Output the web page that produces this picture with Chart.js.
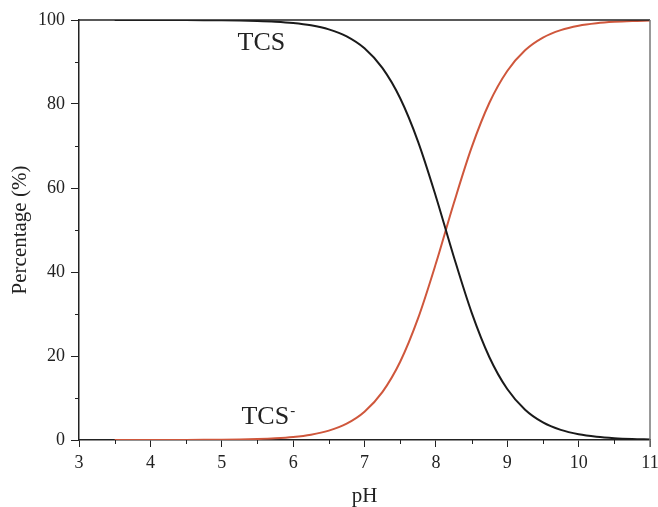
<!DOCTYPE html>
<html>
<head>
<meta charset="utf-8">
<script src="https://cdn.jsdelivr.net/npm/chart.js@4"></script>
<style>
  html, body { margin: 0; padding: 0; background: #fff; }
  #wrap { width: 658px; height: 507px; }
</style>
</head>
<body>
<div id="wrap"><canvas id="speciesChart"></canvas></div>
<script>
// pH values
const phValues = [3.5, 3.75, 4, 4.25, 4.5, 4.75, 5, 5.25, 5.5, 5.75, 6, 6.25, 6.5, 6.75, 7,
  7.25, 7.5, 7.75, 8, 8.25, 8.5, 8.75, 9, 9.25, 9.5, 9.75, 10, 10.25, 10.5, 10.75, 11];

// neutral form (black curve), %
const tcsNeutral = [100, 100, 99.99, 99.99, 99.98, 99.96, 99.93, 99.87, 99.77, 99.59, 99.28,
  98.73, 97.76, 96.09, 93.25, 88.59, 81.36, 71.05, 57.99, 43.70, 30.39, 19.71, 12.13,
  7.20, 4.18, 2.40, 1.36, 0.77, 0.43, 0.24, 0.14];

// anion form (red curve), %
const tcsAnion = [0, 0, 0.01, 0.01, 0.02, 0.04, 0.07, 0.13, 0.23, 0.41, 0.72,
  1.27, 2.24, 3.91, 6.75, 11.41, 18.64, 28.95, 42.01, 56.30, 69.61, 80.29, 87.87,
  92.80, 95.82, 97.60, 98.64, 99.23, 99.57, 99.76, 99.86];

const xMajor = [3, 4, 5, 6, 7, 8, 9, 10, 11];
const xMinor = [3.5, 4.5, 5.5, 6.5, 7.5, 8.5, 9.5, 10.5];
const yMinor = [10, 30, 50, 70, 90];

const serif = "'Liberation Serif', 'Times New Roman', serif";

const toPoints = (ys) => phValues.map((x, i) => ({ x, y: ys[i] }));

// frame lines, minor ticks and the two curve labels
const extras = {
  id: "extras",
  afterDraw(chart) {
    const { ctx, chartArea: a, scales: { x, y } } = chart;
    ctx.save();

    ctx.strokeStyle = "#222";
    ctx.lineWidth = 1.5;
    ctx.beginPath();
    ctx.moveTo(a.left, a.top);
    ctx.lineTo(a.right, a.top);
    ctx.stroke();

    ctx.strokeStyle = "#777";
    ctx.beginPath();
    ctx.moveTo(a.right, a.top);
    ctx.lineTo(a.right, a.bottom + 7);
    ctx.stroke();

    ctx.strokeStyle = "#222";
    ctx.lineWidth = 1;
    ctx.beginPath();
    xMinor.forEach(v => {
      const px = Math.round(x.getPixelForValue(v)) + 0.5;
      ctx.moveTo(px, a.bottom);
      ctx.lineTo(px, a.bottom + 4);
    });
    yMinor.forEach(v => {
      const py = Math.round(y.getPixelForValue(v)) + 0.5;
      ctx.moveTo(a.left, py);
      ctx.lineTo(a.left - 4, py);
    });
    ctx.stroke();

    ctx.fillStyle = "#222";
    ctx.textAlign = "center";
    ctx.textBaseline = "middle";
    ctx.font = "26px " + serif;
    ctx.fillText("TCS", x.getPixelForValue(5.555), y.getPixelForValue(94.6));

    const cx = x.getPixelForValue(5.61);
    const cy = y.getPixelForValue(5.5);
    ctx.fillText("TCS", cx, cy);
    const w = ctx.measureText("TCS").width;
    ctx.font = "15px " + serif;
    ctx.textAlign = "left";
    ctx.fillText("-", cx + w / 2 + 1, cy - 6);

    ctx.restore();
  }
};

new Chart(document.getElementById("speciesChart"), {
  type: "line",
  data: {
    datasets: [
      {
        label: "TCS",
        data: toPoints(tcsNeutral),
        borderColor: "#1a1a1a",
        borderWidth: 2,
        pointRadius: 0,
        cubicInterpolationMode: "monotone"
      },
      {
        label: "TCS-",
        data: toPoints(tcsAnion),
        borderColor: "#cf573c",
        borderWidth: 2,
        pointRadius: 0,
        cubicInterpolationMode: "monotone"
      }
    ]
  },
  options: {
    responsive: true,
    maintainAspectRatio: false,
    animation: false,
    layout: { padding: { top: 20, right: 8, left: 0, bottom: 0 } },
    plugins: {
      legend: { display: false },
      tooltip: { enabled: false }
    },
    scales: {
      x: {
        type: "linear",
        min: 3,
        max: 11,
        afterBuildTicks: (s) => { s.ticks = xMajor.map(v => ({ value: v })); },
        afterFit: (s) => { s.height = 67; s.paddingLeft = 0; s.paddingRight = 0; },
        grid: { drawOnChartArea: false, tickLength: 7, tickColor: "#222" },
        border: { color: "#222", width: 1.5 },
        ticks: { color: "#222", font: { family: serif, size: 18 }, padding: 5, maxRotation: 0 },
        title: {
          display: true,
          text: "pH",
          color: "#222",
          font: { family: serif, size: 21, lineHeight: 1 },
          padding: { top: 0, bottom: 0 }
        }
      },
      y: {
        min: 0,
        max: 100,
        ticks: { stepSize: 20, color: "#222", font: { family: serif, size: 18 }, padding: 6 },
        afterFit: (s) => { s.width = 79; s.paddingTop = 0; s.paddingBottom = 0; },
        grid: { drawOnChartArea: false, tickLength: 8, tickColor: "#222" },
        border: { color: "#222", width: 1.5 },
        title: {
          display: true,
          text: "Percentage (%)",
          color: "#222",
          font: { family: serif, size: 21, lineHeight: 1 },
          padding: { top: 10, bottom: 0 }
        }
      }
    }
  },
  plugins: [extras]
});
</script>
</body>
</html>
